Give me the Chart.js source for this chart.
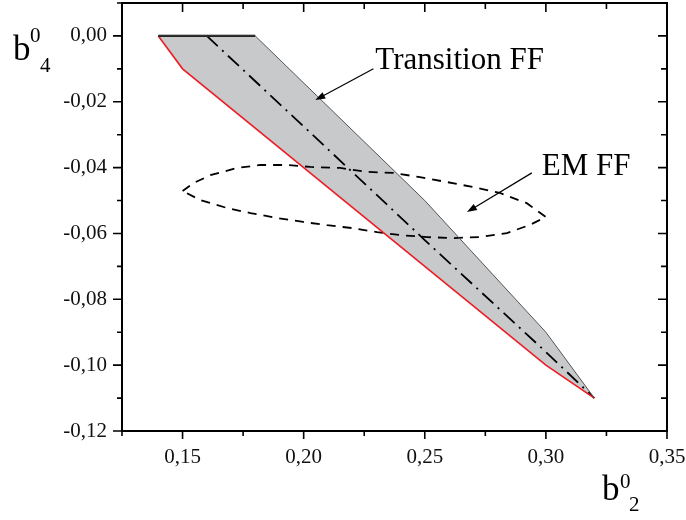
<!DOCTYPE html>
<html>
<head>
<meta charset="utf-8">
<script src="https://cdn.jsdelivr.net/npm/chart.js@4.4.1/dist/chart.umd.min.js"></script>
<style>
  html, body { margin: 0; padding: 0; background: #fff; }
  #wrap { width: 686px; height: 520px; position: relative; }
</style>
</head>
<body>
<div id="wrap"><canvas id="myChart"></canvas></div>
<script>
"use strict";
// upper edge of the transition band (grey)
const upperX = [0.14, 0.18, 0.25, 0.30, 0.32];
const upperY = [0.00, 0.00, -0.05, -0.09, -0.11];
// flat top of the band (black)
const topX = [0.14, 0.18];
const topY = [0.00, 0.00];
// lower edge (red)
const lowerX = [0.14, 0.15, 0.20, 0.25, 0.30, 0.32];
const lowerY = [0.00, -0.01, -0.04, -0.07, -0.10, -0.11];
// dash-dot centre line
const midX = [0.16, 0.20, 0.25, 0.30, 0.32];
const midY = [0.00, -0.0275, -0.062, -0.096, -0.11];
// EM FF contour (closed)
const emX = [0.150, 0.1545, 0.1615, 0.1726, 0.1821, 0.1932, 0.2027, 0.2151, 0.2262, 0.2369, 0.2480, 0.2592, 0.2699, 0.2810, 0.2921, 0.300,
             0.2934, 0.2839, 0.2728, 0.2617, 0.2509, 0.2398, 0.2303, 0.2204, 0.2097, 0.1998, 0.1891, 0.1780, 0.1685, 0.1574, 0.150];
const emY = [-0.0471, -0.0447, -0.0423, -0.0401, -0.0392, -0.0392, -0.0398, -0.0401, -0.0413, -0.0416, -0.0429, -0.0444, -0.0459, -0.0477, -0.0508, -0.0550,
             -0.0574, -0.0599, -0.0611, -0.0614, -0.0611, -0.0605, -0.0596, -0.0584, -0.0575, -0.0565, -0.0553, -0.0538, -0.0523, -0.0499, -0.0471];
// labelled ticks
const xTicks = [0.15, 0.20, 0.25, 0.30, 0.35];
const yTicks = [0.00, -0.02, -0.04, -0.06, -0.08, -0.10, -0.12];
// annotations (data units)
const notes = [
    {text: "Transition FF", x: 0.2296, y: -0.010, from: [0.2288, -0.010], to: [0.2048, -0.0195]},
    {text: "EM FF", x: 0.2983, y: -0.0422, from: [0.2942, -0.0416], to: [0.2674, -0.0535]}
];

const FONT = "'Liberation Serif', 'Times New Roman', serif";

function pts(xs, ys) {
    return xs.map((v, i) => ({x: v, y: ys[i]}));
}
function isMajor(list, v) {
    return list.some(t => Math.abs(t - v) < 1e-6);
}
function fmt(v) {
    if (Math.abs(v) < 1e-9) v = 0;
    return v.toFixed(2).replace(".", ",");
}

function arrow(ctx, x0, y0, x1, y1) {
    const ang = Math.atan2(y1 - y0, x1 - x0);
    const len = 10, half = 3.5;
    ctx.beginPath();
    ctx.moveTo(x0, y0);
    ctx.lineTo(x1 - Math.cos(ang) * len * 0.8, y1 - Math.sin(ang) * len * 0.8);
    ctx.stroke();
    ctx.beginPath();
    ctx.moveTo(x1, y1);
    ctx.lineTo(x1 - Math.cos(ang) * len - Math.sin(ang) * half, y1 - Math.sin(ang) * len + Math.cos(ang) * half);
    ctx.lineTo(x1 - Math.cos(ang) * len + Math.sin(ang) * half, y1 - Math.sin(ang) * len - Math.cos(ang) * half);
    ctx.closePath();
    ctx.fill();
}

const decor = {
    id: "decor",
    afterDraw(chart) {
        const {ctx, chartArea: a, scales: {x, y}} = chart;
        ctx.save();
        ctx.strokeStyle = "#000";
        ctx.fillStyle = "#000";
        // frame
        ctx.lineWidth = 2;
        ctx.strokeRect(a.left, a.top, a.right - a.left, a.bottom - a.top);
        // ticks
        ctx.lineWidth = 1.6;
        ctx.beginPath();
        x.ticks.forEach(t => {
            const px = x.getPixelForValue(t.value);
            const m = isMajor(xTicks, t.value);
            ctx.moveTo(px, a.bottom); ctx.lineTo(px, a.bottom + (m ? 8 : 5));
            ctx.moveTo(px, a.top); ctx.lineTo(px, a.top + (m ? 9 : 6));
        });
        y.ticks.forEach(t => {
            const py = y.getPixelForValue(t.value);
            const m = isMajor(yTicks, t.value);
            ctx.moveTo(a.left, py); ctx.lineTo(a.left - (m ? 9 : 5), py);
            ctx.moveTo(a.right, py); ctx.lineTo(a.right - (m ? 9 : 6), py);
        });
        ctx.stroke();

        // annotations
        ctx.font = "31px " + FONT;
        ctx.textBaseline = "alphabetic";
        ctx.textAlign = "left";
        ctx.lineWidth = 1.2;
        notes.forEach(n => {
            ctx.fillText(n.text, x.getPixelForValue(n.x), y.getPixelForValue(n.y));
            arrow(ctx, x.getPixelForValue(n.from[0]), y.getPixelForValue(n.from[1]),
                x.getPixelForValue(n.to[0]), y.getPixelForValue(n.to[1]));
        });

        // axis titles
        ctx.font = "35px " + FONT;
        ctx.fillText("b", 13, 60);
        ctx.fillText("b", 602, 500);
        ctx.font = "21px " + FONT;
        ctx.fillText("0", 30, 42);
        ctx.fillText("4", 40, 72);
        ctx.fillText("0", 620, 488);
        ctx.fillText("2", 629, 511);
        ctx.restore();
    }
};

const chart = new Chart("myChart", {
    type: "scatter",
    data: {
        datasets: [
            {
                data: pts(upperX, upperY),
                showLine: true,
                borderWidth: 1,
                borderColor: "#555",
                backgroundColor: "#c8c9cb",
                fill: "+2",
                pointRadius: 0
            },
            {
                data: pts(topX, topY),
                showLine: true,
                borderWidth: 2.2,
                borderColor: "#000",
                fill: false,
                pointRadius: 0
            },
            {
                data: pts(lowerX, lowerY),
                showLine: true,
                borderWidth: 1.6,
                borderColor: "#ee1c24",
                fill: false,
                pointRadius: 0
            },
            {
                data: pts(midX, midY),
                showLine: true,
                borderWidth: 1.8,
                borderColor: "#000",
                borderDash: [15, 6, 2, 6],
                fill: false,
                pointRadius: 0
            },
            {
                data: pts(emX, emY),
                showLine: true,
                borderWidth: 1.8,
                borderColor: "#000",
                borderDash: [9, 7],
                fill: false,
                pointRadius: 0
            }
        ]
    },
    options: {
        responsive: true,
        maintainAspectRatio: false,
        animation: false,
        events: [],
        layout: {padding: {top: 3, right: 19, left: 0, bottom: 0}},
        plugins: {
            legend: {display: false},
            tooltip: {enabled: false},
            filler: {drawTime: "beforeDatasetsDraw"}
        },
        scales: {
            x: {
                type: "linear",
                min: 0.125,
                max: 0.35,
                grid: {display: true, drawOnChartArea: false, drawTicks: false, tickLength: 0},
                border: {display: true, color: "#000", width: 2},
                ticks: {
                    stepSize: 0.025,
                    autoSkip: false,
                    maxRotation: 0,
                    padding: 14,
                    color: "#111",
                    font: {family: FONT, size: 21},
                    callback: v => isMajor(xTicks, v) ? fmt(v) : ""
                },
                afterFit: s => {
                    s.height = 89;
                    s.paddingLeft = 0; s.paddingRight = 0;
                }
            },
            y: {
                type: "linear",
                min: -0.12,
                max: 0.01,
                grid: {display: true, drawOnChartArea: false, drawTicks: false, tickLength: 0},
                border: {display: true, color: "#000", width: 2},
                ticks: {
                    stepSize: 0.01,
                    autoSkip: false,
                    padding: 15,
                    color: "#111",
                    font: {family: FONT, size: 21},
                    callback: v => isMajor(yTicks, v) ? fmt(v) : ""
                },
                afterFit: s => {
                    s.width = 122;
                    s.paddingTop = 0; s.paddingBottom = 0;
                }
            }
        }
    },
    plugins: [decor]
});
</script>
</body>
</html>
